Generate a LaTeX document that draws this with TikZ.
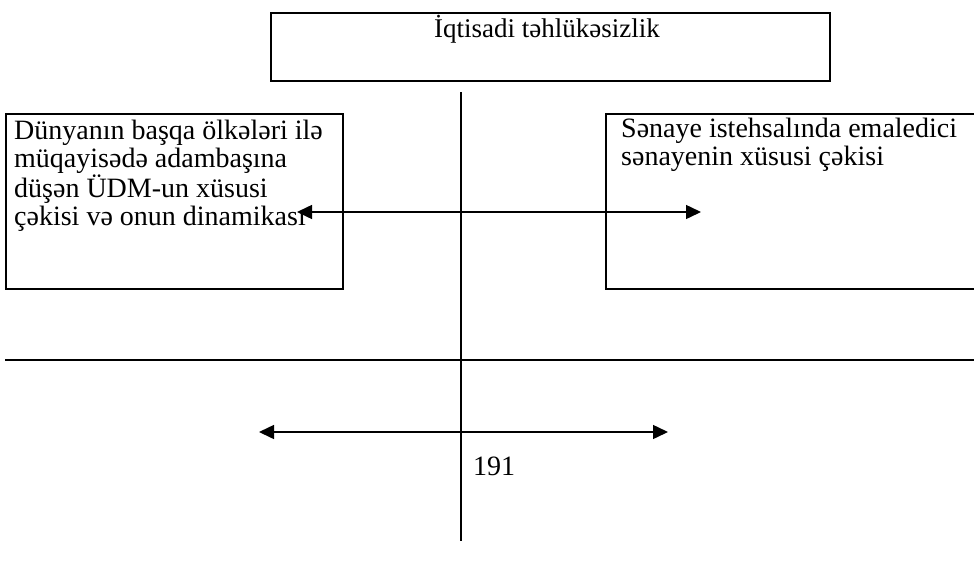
\documentclass[tikz,border=0pt]{standalone}
\usepackage{fontspec}
\setmainfont{Liberation Serif}
\usetikzlibrary{arrows.meta}
\tikzset{
  box/.style={draw, line width=2pt, inner sep=0pt, anchor=north west},
  txt/.style={inner sep=0pt, anchor=north west, align=left, font=\fontsize{28}{28}\selectfont},
  conn/.style={line width=1.5pt},
  biarrow/.style={line width=1.5pt, {Triangle[length=15pt,width=14pt]}-{Triangle[length=15pt,width=14pt]}}
}
\begin{document}
\begin{tikzpicture}[x=1pt,y=-1pt]
\useasboundingbox (0,0) rectangle (974,570);
% boxes
\node[box, minimum width=559pt, minimum height=68pt] (topbox) at (270,12) {};
\node[box, minimum width=337pt, minimum height=175pt] (leftbox) at (5,113) {};
\node[box, minimum width=380pt, minimum height=175pt] (rightbox) at (605,113) {};
% texts
\node[txt, anchor=base, font=\fontsize{27}{28}\selectfont] (toptext) at (547,37) {İqtisadi təhlükəsizlik};
\node[txt] (lefttext) at (14,120) {Dünyanın başqa ölkələri ilə\\müqayisədə adambaşına\\düşən ÜDM-un xüsusi\\çəkisi və onun dinamikası};
\node[txt] (righttext) at (621,118) {Sənaye istehsalında emaledici\\sənayenin xüsusi çəkisi};
\node[txt, anchor=base west] (num) at (473,475) {191};
% lines
\coordinate (vtop) at (461,92);
\coordinate (vbot) at (461,541);
\coordinate (hl) at (5,360);
\coordinate (hr) at (974,360);
\draw[conn] (vtop) -- (vbot);
\draw[line width=2.5pt] (hl) -- (hr);
% arrows
\coordinate (a1l) at (297,212);
\coordinate (a1r) at (701,212);
\coordinate (a2l) at (259,432);
\coordinate (a2r) at (668,432);
\draw[biarrow] (a1l) -- (a1r);
\draw[biarrow] (a2l) -- (a2r);
\end{tikzpicture}
\end{document}
